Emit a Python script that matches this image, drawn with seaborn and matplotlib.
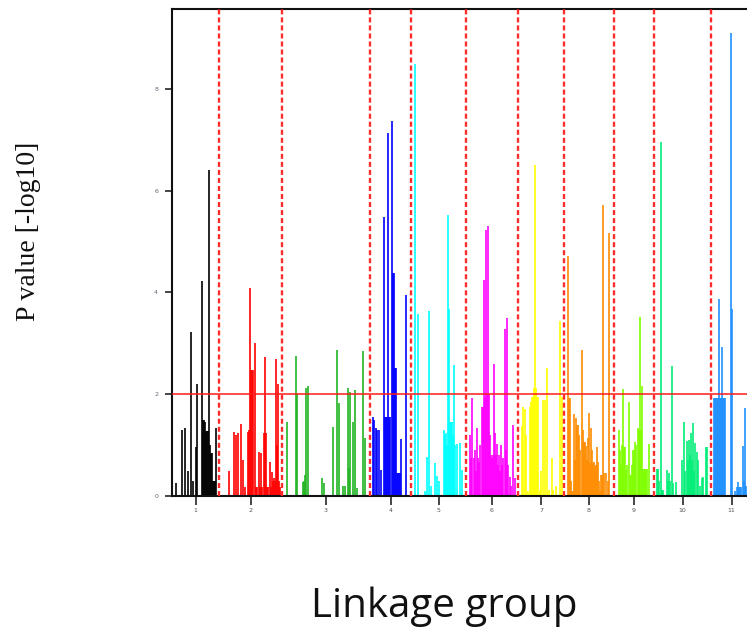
import matplotlib
matplotlib.use("Agg")
import matplotlib.pyplot as plt
import seaborn as sns
import pandas as pd

# linkage group layout along the genome axis (cumulative units)
group_labels = ["1", "2", "3", "4", "5", "6", "7", "8", "9", "10", "11"]
group_bounds = [0, 47, 110, 198, 239, 294, 346, 392, 442, 482, 539, 580]
group_colors = ["#000000", "#FF0000", "#22B422", "#0000FF", "#00FFFF", "#FF00FF",
                "#FFFF00", "#FF8C00", "#7FFF00", "#00EE76", "#1E90FF"]
threshold = 2.0

lg1_pos = [4, 10, 12.5, 16, 18.5, 21, 23.5, 25, 29.5, 30.5, 31.5, 32.5, 33.5, 34.5,
           35.5, 36.5, 37.5, 38.5, 39.5, 40.5, 41.5, 42.5, 43.5]
lg1_val = [0.25, 1.3, 1.33, 0.5, 3.23, 0.3, 0.97, 2.2, 4.23, 1.5, 1.5, 1.45, 1.28, 1.28,
           1.28, 6.4, 1.0, 0.85, 0.85, 0.3, 0.3, 0.3, 1.33]

lg2_pos = [56.5, 62, 64, 66, 68.5, 71, 73, 75.5, 76.5, 78, 79, 80, 81, 82.5, 84, 85,
           86.5, 87.5, 89, 90, 91.5, 93, 94, 95, 96, 97.5, 98.5, 99.5, 100.5, 101.5,
           102.5, 103.5, 104.5, 105.5, 106.5, 107.5]
lg2_val = [0.5, 1.26, 1.2, 1.23, 1.41, 0.71, 0.18, 1.26, 1.3, 4.09, 2.48, 2.48, 2.48, 3.0,
           0.18, 0.18, 0.87, 0.18, 0.84, 0.18, 1.23, 2.74, 1.24, 0.18, 0.18, 0.67, 0.18,
           0.48, 0.3, 0.35, 0.3, 2.69, 1.0, 2.21, 0.3, 0.18]

lg3_pos = [114.5, 123.5, 124.5, 130.5, 131.5, 132.5, 134, 135.5, 149.5, 152, 160.5,
           165.3, 167, 171.3, 173, 175.7, 177, 178, 180.7, 183, 185.3, 191.3, 193]
lg3_val = [1.46, 2.76, 2.0, 0.28, 0.3, 0.41, 2.13, 2.16, 0.35, 0.25, 1.36,
           2.87, 1.82, 0.2, 0.2, 2.12, 0.55, 2.05, 1.46, 2.08, 0.15, 2.84, 1.13]

lg4_pos = [201, 202, 203.5, 205, 206.5, 208.5, 212, 213, 214, 215, 216, 217, 218, 219.5,
           220.5, 221.5, 222.5, 223.5, 224.5, 225.5, 226.5, 227.5, 229, 233.5]
lg4_val = [1.55, 1.5, 1.33, 1.3, 1.3, 0.52, 5.49, 1.56, 1.56, 1.56, 7.14, 1.56, 1.56, 7.37,
           4.38, 4.38, 2.52, 2.52, 0.45, 0.45, 0.45, 0.45, 1.12, 3.95]

lg5_pos = [243.3, 245.7, 253, 254.7, 257, 259, 263, 264.7, 267, 271.5, 272.5, 273.7, 275,
           276.3, 277.3, 278.3, 279.3, 280.3, 281.3, 282.3, 283.3, 284.7, 287.5, 289.5]
lg5_val = [8.49, 3.57, 0.1, 0.77, 3.63, 0.2, 0.64, 0.39, 0.3, 1.3, 1.2, 1.23, 1.0,
           5.52, 3.67, 1.46, 1.46, 1.46, 1.2, 2.58, 1.0, 1.03, 1.05, 0.52]

lg6_pos = [298, 299, 300.3, 301.5, 302.5, 303.5, 305, 306, 307, 308, 309.5, 310.5, 311.5,
           312.5, 313.7, 314.7, 316, 317, 318, 319, 320, 321, 322.3, 323.3, 324.3, 325.3,
           326.3, 327.3, 328.3, 329.3, 330.3, 331.3, 333, 334, 335, 336.2, 337.5, 339,
           341.3, 343]
lg6_val = [1.2, 0.74, 1.92, 0.74, 0.9, 0.5, 1.33, 0.74, 0.67, 1.0, 1.75, 1.75, 4.24,
           1.95, 5.23, 2.0, 5.3, 2.0, 1.2, 0.8, 0.74, 0.8, 2.59, 1.23, 0.8, 1.03,
           0.6, 0.8, 0.5, 1.0, 0.6, 0.74, 3.29, 0.9, 3.49, 0.6, 0.38, 0.2,
           1.39, 0.35]

lg7_pos = [349.5, 351, 352.5, 354, 356, 358, 359, 360, 361, 362, 363, 364, 365, 366,
           367.5, 369, 371, 373, 375, 377, 379.5, 381, 384, 388, 389.5]
lg7_val = [1.38, 1.75, 1.7, 1.2, 0.1, 1.75, 1.85, 1.95, 1.95, 2.12, 6.5, 2.12, 1.95, 1.95,
           0.12, 0.5, 1.89, 1.89, 2.51, 0.12, 0.74, 0.12, 0.2, 3.43, 1.95]

lg8_pos = [395.7, 396.7, 397.7, 398.7, 400, 401, 402, 403, 404, 405, 406, 407, 408, 409.5,
           410.5, 411.5, 412.5, 413.5, 414.5, 415.7, 416.7, 417.7, 418.7, 419.7, 420.7,
           421.7, 422.7, 423.7, 424.7, 425.7, 426.7, 427.7, 429, 430, 431.3, 432.3, 433.7,
           436.3, 437.3]
lg8_val = [4.72, 1.92, 1.92, 0.3, 0.1, 0.1, 1.62, 0.7, 1.53, 1.4, 1.39, 1.2, 0.9, 2.87,
           1.3, 1.07, 1.07, 0.98, 0.7, 1.13, 1.64, 0.64, 1.33, 0.9, 0.64,
           0.67, 0.58, 0.6, 0.97, 0.67, 0.3, 0.1, 0.41, 0.41, 5.72, 0.45, 0.45,
           0.3, 5.16]

lg9_pos = [446.7, 447.7, 448.7, 449.7, 451, 452, 453, 454, 455, 457.3, 458.3, 459.3,
           460.3, 461.3, 462.3, 463.3, 464.3, 465.5, 466.5, 467.3, 468.2, 469.2, 470,
           471, 472, 473, 474, 475, 477.3]
lg9_val = [1.3, 0.9, 0.6, 1.0, 2.1, 0.97, 0.97, 0.51, 0.6, 1.85, 0.41, 0.41,
           0.6, 0.9, 0.9, 1.07, 1.0, 1.33, 1.2, 1.3, 3.52, 1.3, 2.16,
           0.54, 0.54, 0.54, 0.54, 0.54, 1.02]

lg10_pos = [485.3, 486.3, 487.3, 489, 490, 491, 494.7, 495.7, 497, 498, 499.7, 501, 503.7,
            510.3, 512.3, 513.3, 514.7, 515.7, 517, 518, 519, 520, 521.3, 522.3, 523,
            524.7, 526, 527.5, 529.7, 531, 534, 535]
lg10_val = [0.54, 0.54, 0.3, 6.96, 0.12, 0.12, 0.52, 0.3, 0.45, 0.3, 2.55, 0.26, 0.28,
            0.71, 1.46, 0.5, 1.08, 0.7, 1.1, 0.8, 1.23, 0.7, 1.43, 0.5, 1.05,
            0.87, 0.71, 0.2, 0.35, 0.38, 0.97, 0.97]

lg11_pos = [542, 543, 544, 545, 546, 547, 548, 549, 549.7, 550.7, 551.7, 552.7, 558.7,
            560.3, 563, 565, 566.3, 567.3, 568.3, 569.3, 570.7, 571.7, 573, 574]
lg11_val = [1.92, 1.92, 1.92, 1.92, 1.92, 3.88, 1.92, 1.92, 2.93, 1.92, 1.92, 1.92, 9.09,
            3.67, 0.1, 0.18, 0.28, 0.18, 0.18, 0.18, 0.98, 0.3, 1.72, 0.2]

positions = [lg1_pos, lg2_pos, lg3_pos, lg4_pos, lg5_pos, lg6_pos,
             lg7_pos, lg8_pos, lg9_pos, lg10_pos, lg11_pos]
values = [lg1_val, lg2_val, lg3_val, lg4_val, lg5_val, lg6_val,
          lg7_val, lg8_val, lg9_val, lg10_val, lg11_val]

df = pd.concat(
    [pd.DataFrame({"pos": p, "logp": v, "lg": lab})
     for p, v, lab in zip(positions, values, group_labels)],
    ignore_index=True)

sns.set_style("ticks")
palette = dict(zip(group_labels, sns.color_palette(group_colors)))

fig = plt.figure(figsize=(7.47, 6.28), dpi=100)
# axes run past the right edge of the picture, as in the cropped original
ax = fig.add_axes([172 / 747, 132 / 628, 580 / 747, 487 / 628])

for lab, sub in df.groupby("lg", sort=False):
    ax.vlines(sub["pos"], 0, sub["logp"], colors=[palette[lab]], linewidth=1.4, alpha=0.85)

ax.axhline(threshold, color="#FF1A1A", linewidth=1.1, zorder=3)
for b in group_bounds[1:-1]:
    ax.axvline(b, color="#FF2A2A", linewidth=1.7, linestyle=(0, (2.1, 1.3)), zorder=3)

ax.set_xlim(group_bounds[0], group_bounds[-1])
ax.set_ylim(0, 9.57)

mids = [(a + b) / 2 for a, b in zip(group_bounds[:-1], group_bounds[1:])]
ax.set_xticks(mids)
ax.set_xticklabels(group_labels)
ax.set_yticks([0, 2, 4, 6, 8])
ax.tick_params(axis="x", length=6.5, width=1.2, pad=2, labelsize=4.5, labelcolor="#555555")
ax.tick_params(axis="y", length=5, width=1.2, pad=5, labelsize=4.5, labelcolor="#666677")
ax.set_xlabel("")
ax.set_ylabel("")
for s in ax.spines.values():
    s.set_linewidth(1.5)
    s.set_color("#111111")

fig.text(29 / 747, 1 - 231 / 628, "P value [-log10]", rotation=90,
         family=["Liberation Serif", "DejaVu Serif"], fontsize=20,
         ha="center", va="center", color="#111111")
fig.text(444 / 747, 1 - 617 / 628, "Linkage group",
         family=["Open Sans", "DejaVu Sans"], fontsize=29,
         ha="center", va="baseline", color="#111111")

fig.savefig("out.png", dpi=100)
